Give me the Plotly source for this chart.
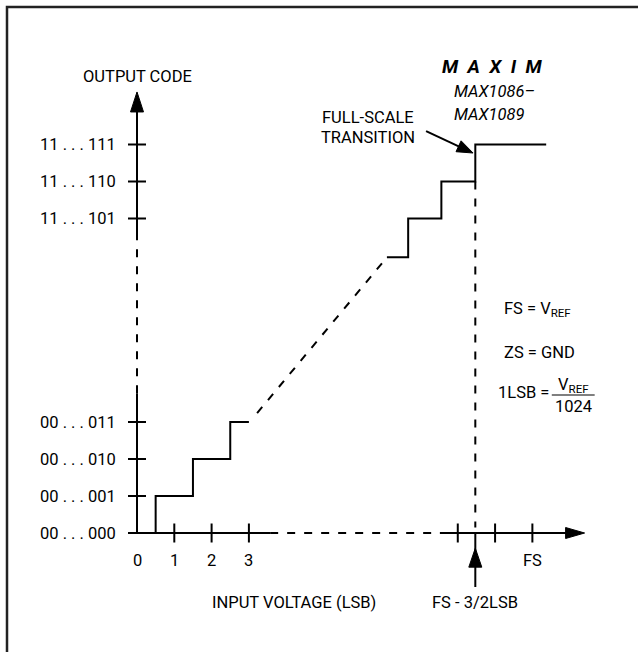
import plotly.graph_objects as go

# ---------------- data (in LSB / code units) ----------------
y_tick_vals = [0, 1, 2, 3, 8.5, 9.5, 10.5]
y_tick_text = ["00 . . . 000", "00 . . . 001", "00 . . . 010", "00 . . . 011",
               "11 . . . 101", "11 . . . 110", "11 . . . 111"]
x_tick_vals = [1, 2, 3]
x_tick_text = ["1", "2", "3"]
FS = 10.6
fs_tick_offsets = [-2, -1, 0]
transition_x = 9.07

low_step_x = [0, 0.5, 0.5, 1.5, 1.5, 2.5, 2.5, 3.0]
low_step_y = [0, 0, 1, 1, 2, 2, 3, 3]
diag_x = [3.22, 6.70]
diag_y = [3.24, 7.45]
high_step_x = [6.70, 7.27, 7.27, 8.16, 8.16, 9.07, 9.07, 10.97]
high_step_y = [7.45, 7.45, 8.5, 8.5, 9.5, 9.5, 10.5, 10.5]

y_axis_solid_lo = [0, 3.78]
y_axis_dash = [3.78, 7.92]
y_axis_solid_hi = [7.92, 11.45]
y_axis_tip = 11.92
x_axis_solid_lo = [0, 3.57]
x_axis_dash = [3.57, 8.12]
x_axis_solid_hi = [8.12, 11.6]
x_axis_tip = 12.0

# ---------------- scales ----------------
W, H = 638, 652
X0PX, Y0PX = 137, 533
SX, SY = 37.3, 37.0
x_range = [-X0PX / SX, (W - X0PX) / SX]
y_range = [-(H - Y0PX) / SY, Y0PX / SY]

FONT = "Roboto, Liberation Sans, Arial, sans-serif"
FS_TXT = 16.5
BLACK = "#000000"

fig = go.Figure()


def line(xs, ys, dash="solid", width=2):
    fig.add_trace(go.Scatter(x=xs, y=ys, mode="lines",
                             line=dict(color=BLACK, width=width, dash=dash),
                             hoverinfo="skip", showlegend=False))


def arrowhead(tip_x, tip_y, from_x, from_y, length_px, half_px):
    tx, ty = tip_x * SX, tip_y * SY
    fx, fy = from_x * SX, from_y * SY
    dx, dy = tx - fx, ty - fy
    n = (dx * dx + dy * dy) ** 0.5
    ux, uy = dx / n, dy / n
    bx, by = tx - ux * length_px, ty - uy * length_px
    px_, py_ = -uy, ux
    pts = [(tx, ty), (bx + px_ * half_px, by + py_ * half_px),
           (bx - px_ * half_px, by - py_ * half_px), (tx, ty)]
    fig.add_trace(go.Scatter(x=[p[0] / SX for p in pts], y=[p[1] / SY for p in pts],
                             mode="lines", fill="toself", fillcolor=BLACK,
                             line=dict(color=BLACK, width=1),
                             hoverinfo="skip", showlegend=False))


DASH = "8px,9px"
# y axis
line([0, 0], y_axis_solid_lo)
line([0, 0], y_axis_dash, dash=DASH)
line([0, 0], y_axis_solid_hi)
arrowhead(0, y_axis_tip, 0, 0, 20, 6.5)
# x axis
line(x_axis_solid_lo, [0, 0])
line(x_axis_dash, [0, 0], dash=DASH)
line(x_axis_solid_hi, [0, 0])
arrowhead(x_axis_tip, 0, 0, 0, 19, 5.5)

# ticks
tick_half_x = 9 / SX
tick_half_y = 9.5 / SY
for v in y_tick_vals:
    line([-tick_half_x, tick_half_x], [v, v])
for v in x_tick_vals + [FS + o for o in fs_tick_offsets]:
    line([v, v], [-tick_half_y, tick_half_y])

# staircase
line(low_step_x, low_step_y)
line(diag_x, diag_y, dash=DASH)
line(high_step_x, high_step_y)
# full-scale vertical dashed line
line([transition_x, transition_x], [high_step_y[4], 0.15], dash=DASH)

# up arrow FS - 3/2 LSB
up_tip, up_tail = -0.41, -1.46
line([transition_x, transition_x], [up_tail, up_tip + 0.4])
arrowhead(transition_x, up_tip, transition_x, up_tail, 19, 6.5)

# full-scale transition arrow
fst_tail = (7.75, 10.86)
fst_tip = (9.01, 10.27)
line([fst_tail[0], fst_tip[0] - 0.3], [fst_tail[1], fst_tip[1] + 0.14])
arrowhead(fst_tip[0], fst_tip[1], fst_tail[0], fst_tail[1], 16, 6)

annotations = []


def text(x, y, s, size=FS_TXT, xanchor="center", italic=False, bold=False):
    if italic:
        s = "<i>" + s + "</i>"
    if bold:
        s = "<b>" + s + "</b>"
    annotations.append(dict(x=x, y=y, xref="x", yref="y", text=s, showarrow=False,
                            xanchor=xanchor, yanchor="middle",
                            font=dict(family=FONT, size=size, color=BLACK)))


for v, t in zip(y_tick_vals, y_tick_text):
    text(-0.5, v, t, xanchor="right")
text(0, -0.73, "0")
for v, t in zip(x_tick_vals, x_tick_text):
    text(v, -0.73, t)
text(FS, -0.73, "FS")
text(4.21, -1.89, "INPUT VOLTAGE (LSB)")
text(transition_x, -1.89, "FS - 3/2LSB")
text(0.02, 12.35, "OUTPUT CODE")
text(6.19, 11.22, "FULL-SCALE")
text(6.19, 10.68, "TRANSITION")
text(9.52, 12.62, "M\u2002A\u2002X\u2002I\u2002M", size=19, italic=True, bold=True)
text(8.45, 11.92, "MAX1086–", xanchor="left", italic=True)
text(8.45, 11.30, "MAX1089", xanchor="left", italic=True)
text(9.79, 6.03, "FS = V<sub>REF</sub>", xanchor="left")
text(9.79, 4.89, "ZS = GND", xanchor="left")
text(9.62, 3.81, "1LSB =", xanchor="left")
text(11.70, 3.99, "V<sub>REF</sub>")
text(11.70, 3.41, "1024")
line([11.12, 12.27], [3.73, 3.73], width=1.2)

fx0 = 7 / W
fy1 = 1 - 7 / H
frame_path = f"M {fx0},0 L {fx0},{fy1} L 1,{fy1}"

fig.update_layout(
    width=W, height=H,
    margin=dict(l=0, r=0, t=0, b=0),
    paper_bgcolor="white", plot_bgcolor="white",
    xaxis=dict(range=x_range, visible=False, fixedrange=True),
    yaxis=dict(range=y_range, visible=False, fixedrange=True),
    annotations=annotations,
    shapes=[dict(type="path", xref="paper", yref="paper", path=frame_path,
                 line=dict(color="#222222", width=2.5))],
    showlegend=False,
)

fig.write_html("out.html", config={"displayModeBar": False},
               post_script="document.body.style.margin='0px';"
                           "document.body.style.overflow='hidden';"
                           "document.documentElement.style.overflow='hidden';")
